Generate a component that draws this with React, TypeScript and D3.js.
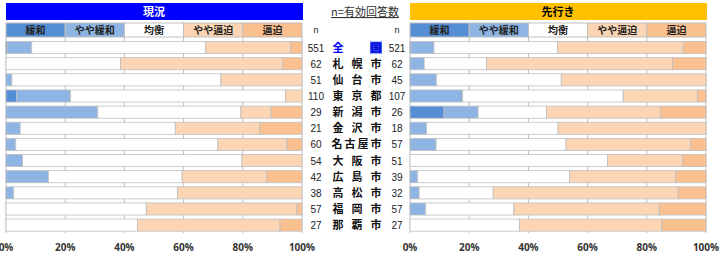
import React from "react";
import * as d3 from "d3";

const categories = ["緩和", "やや緩和", "均衡", "やや逼迫", "逼迫"];
const cities = ["全国", "札幌市", "仙台市", "東京都", "新潟市", "金沢市", "名古屋市", "大阪市", "広島市", "高松市", "福岡市", "那覇市"];
const nNow = [551, 62, 51, 110, 29, 21, 60, 54, 42, 38, 57, 27];
const nAhead = [521, 62, 45, 107, 26, 18, 57, 51, 39, 32, 57, 27];

// percentages per city: [緩和, やや緩和, 均衡, やや逼迫, 逼迫]
const nowValues = [
  [0.5, 8.2, 58.8, 28.7, 3.8],
  [0, 0, 38.7, 54.8, 6.5],
  [0, 2.0, 70.6, 27.4, 0],
  [3.6, 18.2, 72.7, 5.5, 0],
  [0, 31.0, 48.3, 10.3, 10.4],
  [0, 4.8, 52.4, 28.6, 14.2],
  [0, 3.3, 68.3, 23.3, 5.1],
  [0, 5.6, 74.1, 20.3, 0],
  [0, 14.3, 45.2, 28.6, 11.9],
  [0, 2.6, 55.3, 42.1, 0],
  [0, 0, 47.4, 50.9, 1.7],
  [0, 0, 44.4, 48.2, 7.4],
];
const aheadValues = [
  [0.4, 7.7, 41.8, 42.4, 7.7],
  [0, 4.8, 21.0, 62.9, 11.3],
  [0, 8.9, 42.2, 48.9, 0],
  [0, 17.8, 54.2, 25.2, 2.8],
  [11.5, 11.5, 23.1, 38.5, 15.4],
  [0, 5.6, 44.4, 50.0, 0],
  [0, 8.8, 43.9, 42.1, 5.2],
  [0, 0, 66.7, 25.5, 7.8],
  [0, 2.6, 51.3, 35.9, 10.2],
  [0, 3.1, 25.0, 62.5, 9.4],
  [0, 5.3, 29.8, 49.1, 15.8],
  [0, 0, 37.0, 48.1, 14.9],
];
const tickValues = [0, 20, 40, 60, 80, 100];
const colors = ["#558ED5", "#8DB4E2", "#FFFFFF", "#FCD5B5", "#FAC090"];

const W = 720;
const H = 256;
const FONT = "'Noto Sans CJK JP', 'Noto Sans', sans-serif";
const GRID = "#BFBFBF";

const yBand = d3.scaleBand<string>().domain(cities).range([39.5, 233.2]).paddingInner(0.25).paddingOuter(0.125);

function Panel({ x0, x1, values, title, titleBg, titleColor }: any) {
  const x = d3.scaleLinear().domain([0, 100]).range([x0, x1]);
  const stack = values.map((row: number[]) => {
    let acc = 0;
    return row.map((v) => {
      const s = acc;
      acc += v;
      return [s, acc];
    });
  });
  const yTop = 37;
  const yBottom = 233;
  return (
    <g>
      <rect x={x0} y={3} width={x1 - x0 + 1} height={17} fill={titleBg} />
      <text x={(x0 + x1) / 2} y={15.5} textAnchor="middle" fontFamily={FONT} fontWeight="bold" fontSize={11} fill={titleColor}>
        {title}
      </text>
      {categories.map((c, i) => (
        <g key={c}>
          <rect x={x(i * 20)} y={23} width={x(20) - x(0)} height={14} fill={colors[i]} stroke={GRID} strokeWidth={1} />
          <text x={x(i * 20 + 10)} y={34} textAnchor="middle" fontFamily={FONT} fontWeight="bold" fontSize={10} fill="#222">
            {c}
          </text>
        </g>
      ))}
      {tickValues.map((t) => (
        <line key={t} x1={x(t)} x2={x(t)} y1={yTop} y2={yBottom} stroke={GRID} strokeWidth={1} />
      ))}
      {cities.map((c, ri) => (
        <g key={c}>
          {stack[ri].map(([s, e]: number[], ci: number) =>
            e - s > 0 ? (
              <rect key={ci} x={x(s)} y={yBand(c)!} width={x(e) - x(s)} height={yBand.bandwidth()} fill={colors[ci]} stroke={GRID} strokeWidth={0.8} />
            ) : null
          )}
        </g>
      ))}
      {tickValues.map((t) => (
        <text key={t} x={x(t)} y={251} textAnchor="middle" fontFamily="'Open Sans', 'Liberation Sans', sans-serif" fontWeight="bold" fontSize={10} fill="#333">
          {t}%
        </text>
      ))}
    </g>
  );
}

export default function App() {
  return (
    <svg width={W} height={H} style={{ display: "block", position: "absolute", left: 0, top: 0, background: "#fff" }}>
      <Panel x0={6} x1={302} values={nowValues} title="現況" titleBg="#0000FF" titleColor="#FFFFFF" />
      <Panel x0={410} x1={706} values={aheadValues} title="先行き" titleBg="#FFC000" titleColor="#000" />
      <text x={365} y={16} textAnchor="middle" fontFamily={FONT} fontSize={11} fill="#333" textDecoration="underline">
        n=有効回答数
      </text>
      <text x={316} y={33} textAnchor="middle" fontFamily="'Liberation Sans', sans-serif" fontSize={9} fill="#222">n</text>
      <text x={397} y={33} textAnchor="middle" fontFamily="'Liberation Sans', sans-serif" fontSize={9} fill="#222">n</text>
      {cities.map((c, i) => {
        const cy = yBand(c)! + yBand.bandwidth() / 2 + 4;
        const chars = c.split("");
        const xs = chars.length === 4 ? [337, 350, 363, 376] : chars.length === 3 ? [338, 357, 376] : [338, 376];
        return (
          <g key={c}>
            <text x={316} y={cy} textAnchor="middle" fontFamily="'Liberation Sans', sans-serif" fontSize={10} fill="#222">{nNow[i]}</text>
            <text x={397} y={cy} textAnchor="middle" fontFamily="'Liberation Sans', sans-serif" fontSize={10} fill="#222">{nAhead[i]}</text>
            {i === 0 && <rect x={370} y={cy - 10} width={12} height={12} fill="#3355FF" />}
            {chars.map((ch, k) => (
              <text key={k} x={xs[k]} y={cy} textAnchor="middle" fontFamily={FONT} fontWeight="bold" fontSize={11} fill={i === 0 ? (k === 1 ? "#0000CC" : "#0000FF") : "#111"}>
                {ch}
              </text>
            ))}
          </g>
        );
      })}
    </svg>
  );
}
